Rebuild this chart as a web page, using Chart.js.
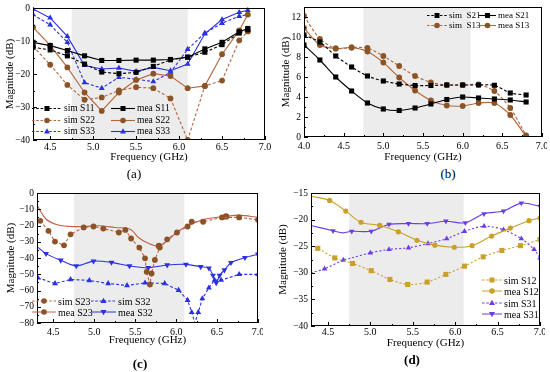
<!DOCTYPE html>
<html><head><meta charset="utf-8">
<script src="https://cdn.jsdelivr.net/npm/chart.js@4.4.0/dist/chart.umd.min.js"></script>
<style>
body{margin:0;background:#fff;width:550px;height:372px;position:relative;overflow:hidden;font-family:"Liberation Serif","Times New Roman",serif;color:#000;}
canvas{position:absolute;}
.cap{position:absolute;font-size:13px;transform:translate(-50%,-50%);white-space:nowrap;color:#000;}
.leg{position:absolute;display:flex;align-items:center;white-space:nowrap;transform:translateY(-50%);}
.leg svg{display:block;margin-right:2px;}
</style></head><body>
<script>
// ---------- data ----------
const SHADE = [4.75, 6.1];
// (a)
const freqA = [4.3,4.5,4.7,4.9,5.1,5.3,5.5,5.7,5.9,6.1,6.3,6.5,6.7,6.8];
const simS11 = [-11.9,-12.7,-14.5,-17.0,-19.4,-19.9,-19.5,-17.7,-15.7,-14.9,-13.4,-11.1,-7.6,-6.6];
const meaS11 = [-10.4,-11.4,-12.9,-14.5,-15.9,-15.9,-15.8,-15.8,-15.6,-14.9,-12.4,-10.4,-7.2,-6.2];
const simS22 = [-11.6,-17.2,-23.3,-27.8,-27.1,-25.0,-24.0,-24.3,-27.4,-40.0,-23.6,-22.0,-9.8,-7.1];
const meaS22 = [-5.8,-11.3,-18.0,-25.6,-31.2,-25.6,-21.8,-19.9,-20.6,-24.3,-23.6,-14.0,-6.8,-2.0];
const simS33 = [-2.0,-5.1,-10.4,-22.6,-24.3,-21.0,-21.6,-22.3,-19.5,-12.5,-7.6,-4.6,-2.5,-2.0];
const meaS33 = [-0.3,-3.0,-8.6,-17.4,-18.5,-18.2,-19.2,-18.0,-19.0,-17.0,-7.8,-3.5,-1.3,-0.7];
// (b)
const freqB = [4.0,4.2,4.4,4.6,4.8,5.0,5.2,5.4,5.6,5.8,6.0,6.2,6.4,6.6,6.8];
const simS21 = [10.2,9.5,8.1,7.0,6.1,5.6,5.3,5.15,5.15,5.2,5.2,5.2,5.17,4.4,4.2];
const meaS21 = [9.2,7.7,6.0,4.6,3.4,2.8,2.65,2.9,3.3,3.75,4.0,3.9,3.8,3.7,3.5];
const simS13 = [12.1,9.8,8.85,8.95,8.9,8.1,7.1,6.1,5.45,5.2,5.2,5.25,4.6,2.9,0.15];
const meaS13 = [10.9,9.2,8.85,8.95,8.55,7.45,5.95,4.65,3.65,3.15,3.1,3.4,3.4,2.2,0.05];
// (c)
const simS23X = [4.34,4.44,4.52,4.63,4.71,4.87,4.99,5.11,5.30,5.38,5.45,5.55,5.62,5.64,5.68,5.70,5.74,5.80,5.89,6.01,6.14,6.19,6.33,6.56,6.77,7.0];
const simS23Y = [-17.1,-23.3,-29.9,-32.2,-25.4,-21.2,-20.6,-21.9,-24.3,-22.7,-28.0,-33.6,-40.2,-48.5,-56.3,-49.5,-41.2,-33.6,-28.5,-24.3,-20.6,-17.7,-17.7,-15.0,-15.0,-16.5];
const meaS23X = [4.3,4.41,4.55,4.70,4.88,5.05,5.25,5.44,5.54,5.64,5.79,5.91,6.03,6.18,6.36,6.61,6.77,7.0];
const meaS23Y = [-7.4,-16.0,-19.6,-20.6,-20.6,-20.2,-21.2,-22.3,-27.4,-30.5,-32.6,-28.5,-23.3,-19.2,-16.0,-14.4,-13.6,-15.0];
const simS32X = [4.31,4.52,4.71,4.94,5.17,5.40,5.62,5.86,6.03,6.14,6.19,6.23,6.27,6.32,6.40,6.47,6.55,6.77,7.0];
const simS32Y = [-52.2,-55.7,-53.2,-53.8,-55.7,-56.9,-55.3,-55.7,-59.8,-66.0,-73.4,-80.0,-73.4,-65.0,-58.4,-53.6,-53.6,-50.1,-50.1];
const meaS32X = [4.3,4.41,4.59,4.78,4.99,5.21,5.43,5.66,5.89,6.12,6.30,6.40,6.45,6.49,6.53,6.59,6.67,6.84,7.0];
const meaS32Y = [-33.0,-37.3,-41.4,-44.9,-41.9,-42.7,-44.9,-46.0,-44.3,-43.9,-45.4,-46.2,-50.7,-55.3,-50.7,-47.4,-42.9,-39.8,-37.7];
// (d)
const simS12X = [4.3,4.38,4.58,4.79,5.01,5.23,5.44,5.67,5.89,6.11,6.33,6.55,6.77,7.0];
const simS12Y = [-25.0,-25.4,-27.2,-28.25,-29.6,-31.25,-32.2,-31.75,-30.3,-28.75,-27.0,-25.8,-24.9,-23.75];
const meaS12X = [4.3,4.52,4.71,4.89,5.11,5.33,5.55,5.76,5.99,6.20,6.43,6.65,6.87,7.0];
const meaS12Y = [-15.6,-16.4,-18.4,-20.5,-21.1,-22.3,-23.9,-24.8,-25.2,-24.9,-23.1,-21.6,-20.2,-19.7];
const simS31X = [4.3,4.46,4.68,4.78,5.0,5.22,5.45,5.68,5.90,6.11,6.34,6.57,6.78,6.93,7.0];
const simS31Y = [-30.0,-29.25,-27.6,-27.2,-26.25,-25.6,-25.3,-24.5,-23.6,-22.2,-21.25,-21.9,-23.6,-25.6,-27.2];
const meaS31X = [4.3,4.56,4.68,4.78,5.01,5.22,5.45,5.67,5.89,6.12,6.34,6.57,6.78,7.0];
const meaS31Y = [-21.1,-22.1,-22.5,-22.2,-22.2,-20.9,-20.75,-20.75,-20.3,-20.6,-18.9,-18.4,-16.9,-17.5];
// ticks
const xTicks = [4.5,5.0,5.5,6.0,6.5,7.0];
const xTickLabels = ['4.5','5.0','5.5','6.0','6.5','7.0'];
const xTicksB = [4.0,4.5,5.0,5.5,6.0,6.5,7.0];
const xTickLabelsB = ['4.0','4.5','5.0','5.5','6.0','6.5','7.0'];
const yTicksA = [-40,-30,-20,-10,0];
const yTickLabelsA = ['\u221240','\u221230','\u221220','\u221210','0'];
const yTicksB = [0,2,4,6,8,10,12];
const yTickLabelsB = ['0','2','4','6','8','10','12'];
const yTicksC = [-80,-70,-60,-50,-40,-30,-20,-10,0];
const yTickLabelsC = ['\u221280','\u221270','\u221260','\u221250','\u221240','\u221230','\u221220','\u221210','0'];
const yTicksD = [-40,-35,-30,-25,-20,-15];
const yTickLabelsD = ['\u221240','\u221235','\u221230','\u221225','\u221220','\u221215'];

// ---------- styles ----------
const FONT = "'Liberation Serif','Times New Roman',serif";
const BLACK='#000000', BROWN='#8c5426', BROWNL='#b0683e', RED='#c0604a', BLUE='#2b30e0', GOLD='#c8a02a', PURPLE='#6c3ee2';

function pts(xs, ys){ return xs.map((x,i)=>({x:x, y:ys[i]})); }
function ds(xs, ys, line, mark, dashed, shape, rot, extra){
  return Object.assign({
    data: pts(xs, ys), showLine:true, borderColor:line, backgroundColor:mark,
    pointBorderColor:mark, borderWidth:1.1, borderDash: dashed ? [3,2] : [],
    pointStyle: shape, pointRotation: rot||0, pointRadius: shape==='rect'?3.6:(shape==='triangle'?3.4:2.9),
    pointBorderWidth:0, tension:0, clip:false
  }, extra||{});
}

function makeFrame(shade){
  return {
    id:'frame',
    beforeDatasetsDraw(c){
      const {ctx, chartArea:ca, scales:{x}} = c;
      ctx.save();
      ctx.fillStyle = '#ececec';
      const a = x.getPixelForValue(shade[0]), b = x.getPixelForValue(shade[1]);
      ctx.fillRect(a, ca.top, b-a, ca.bottom-ca.top);
      ctx.restore();
      ctx.save();
      ctx.beginPath(); ctx.rect(ca.left, ca.top-1, ca.right-ca.left, ca.bottom-ca.top+1); ctx.clip();
    },
    afterDatasetsDraw(c){
      c.ctx.restore();
      const {ctx, chartArea:ca, scales:{x,y}} = c;
      ctx.save();
      ctx.strokeStyle = '#000'; ctx.lineWidth = 1;
      ctx.strokeRect(Math.round(ca.left)+0.5, Math.round(ca.top)+0.5, Math.round(ca.right-ca.left)-1, Math.round(ca.bottom-ca.top)-1);
      ctx.beginPath();
      const xt = x.ticks.map(t=>t.value), yt = y.ticks.map(t=>t.value);
      const xs = xt[1]-xt[0], ys = yt[1]-yt[0];
      const xv = [], yv = [];
      for (let v = xt[0]-xs/2; v <= x.max+1e-9; v += xs/2) if (v >= x.min-1e-9) xv.push(v);
      for (let v = yt[0]; v <= y.max+1e-9; v += ys/2) if (v >= y.min-1e-9) yv.push(v);
      xv.forEach(v=>{
        const major = xt.some(t=>Math.abs(t-v)<1e-6);
        const px = Math.round(x.getPixelForValue(v))+0.5;
        ctx.moveTo(px, ca.bottom); ctx.lineTo(px, ca.bottom-(major?4:2));
      });
      yv.forEach(v=>{
        const major = yt.some(t=>Math.abs(t-v)<1e-6);
        const py = Math.round(y.getPixelForValue(v))+0.5;
        ctx.moveTo(ca.left, py); ctx.lineTo(ca.left+(major?4:2), py);
      });
      ctx.stroke();
      ctx.restore();
    }
  };
}

function panel(p){
  const cv = document.createElement('canvas');
  cv.style.left = p.x0+'px'; cv.style.top = p.y0+'px';
  cv.style.width = p.w+'px'; cv.style.height = p.h+'px';
  cv.width = p.w; cv.height = p.h;
  document.body.appendChild(cv);
  new Chart(cv, {
    type:'scatter',
    data:{datasets:p.datasets},
    options:{
      responsive:false, animation:false, devicePixelRatio:1, events:[],
      layout:{padding:{top:p.area.top-p.y0, right:p.x0+p.w-p.area.right, left:0, bottom:0}},
      plugins:{legend:{display:false}, tooltip:{enabled:false}},
      scales:{
        x:{type:'linear', min:p.xmin, max:p.xmax,
          afterBuildTicks:s=>{ s.ticks = p.xticks.map(v=>({value:v})); },
          afterFit:s=>{ s.height = p.y0+p.h-p.area.bottom; s.paddingLeft=0; s.paddingRight=0; },
          grid:{display:false, drawTicks:false}, border:{display:false},
          ticks:{font:{family:FONT,size:10}, color:'#000', padding:p.xpad, autoSkip:false, maxRotation:0,
            callback:(v,i)=>p.xlabels[i]},
          title:{display:true, text:'Frequency (GHz)', font:{family:FONT,size:11}, color:'#000', padding:{top:0,bottom:1.4}}},
        y:{type:'linear', min:p.ymin, max:p.ymax,
          afterBuildTicks:s=>{ s.ticks = p.yticks.map(v=>({value:v})); },
          afterFit:s=>{ s.width = p.area.left-p.x0; s.paddingTop=0; s.paddingBottom=0; },
          grid:{display:false, drawTicks:false}, border:{display:false},
          ticks:{font:{family:FONT,size:9.5}, color:'#000', padding:3, autoSkip:false,
            callback:(v,i)=>p.ylabels[i]},
          title:{display:true, text:'Magnitude (dB)', font:{family:FONT,size:11}, color:'#000', padding:{top:p.ytpad,bottom:0}}}
      }
    },
    plugins:[makeFrame(SHADE)]
  });
}

function markerSVG(shape, color, cx, cy){
  if (shape==='rect') return `<rect x="${cx-2.5}" y="${cy-2.5}" width="5" height="5" fill="${color}"/>`;
  if (shape==='circle') return `<circle cx="${cx}" cy="${cy}" r="2.8" fill="${color}"/>`;
  if (shape==='tri') return `<polygon points="${cx},${cy-3.2} ${cx+3},${cy+2} ${cx-3},${cy+2}" fill="${color}"/>`;
  if (shape==='trid') return `<polygon points="${cx},${cy+3.2} ${cx+3},${cy-2} ${cx-3},${cy-2}" fill="${color}"/>`;
  return '';
}
function leg(x, y, w, line, mark, dashed, shape, text, fs){
  const d = document.createElement('div');
  d.className = 'leg';
  d.style.left = x+'px'; d.style.top = y+'px'; d.style.fontSize = fs+'px';
  d.innerHTML = `<svg width="${w}" height="9"><line x1="0" y1="4.5" x2="${w}" y2="4.5" stroke="${line}" stroke-width="1.1" ${dashed?'stroke-dasharray="2.5,1.8"':''}/>${markerSVG(shape,mark,w/2,4.5)}</svg><span></span>`;
  d.querySelector('span').textContent = text;
  document.body.appendChild(d);
}
function cap(x, y, text, bold){
  const d = document.createElement('div');
  d.className = 'cap'; d.style.left = x+'px'; d.style.top = y+'px';
  if (bold) d.style.fontWeight = 'bold';
  d.textContent = text; document.body.appendChild(d);
}

// (a)
panel({x0:0, y0:0, w:272, h:165, area:{left:33, top:8, right:265, bottom:140},
  xmin:4.3, xmax:7.0, ymin:-40, ymax:0, xticks:xTicks, xlabels:xTickLabels, yticks:yTicksA, ylabels:yTickLabelsA,
  xpad:1, ytpad:3.5,
  datasets:[
    ds(freqA, simS11, BLACK, BLACK, true, 'rect'),
    ds(freqA, meaS11, BLACK, BLACK, false, 'rect'),
    ds(freqA, simS22, BROWNL, BROWN, true, 'circle'),
    ds(freqA, meaS22, BROWNL, BROWN, false, 'circle'),
    ds(freqA, simS33, BLUE, BLUE, true, 'triangle'),
    ds(freqA, meaS33, BLUE, BLUE, false, 'triangle')
  ]});
leg(32, 108, 30, BLACK, BLACK, true, 'rect', 'sim S11', 9.5);
leg(32, 120, 30, BROWNL, BROWN, true, 'circle', 'sim S22', 9.5);
leg(32, 131, 30, BLUE, BLUE, true, 'tri', 'sim S33', 9.5);
leg(111, 108, 24, BLACK, BLACK, false, 'rect', 'mea S11', 9.5);
leg(111, 120, 24, BROWNL, BROWN, false, 'circle', 'mea S22', 9.5);
leg(111, 131, 24, BLUE, BLUE, false, 'tri', 'mea S33', 9.5);
cap(134, 174, '(a)');

// (b)
panel({x0:275, y0:0, w:272, h:165, area:{left:304, top:7, right:542, bottom:137},
  xmin:4.0, xmax:7.0, ymin:0, ymax:13, xticks:xTicksB, xlabels:xTickLabelsB, yticks:yTicksB, ylabels:yTickLabelsB,
  xpad:3, ytpad:5,
  datasets:[
    ds(freqB, simS21, BLACK, BLACK, true, 'rect', 0, {tension:0.25}),
    ds(freqB, meaS21, BLACK, BLACK, false, 'rect', 0, {tension:0.25}),
    ds(freqB, simS13, BROWNL, BROWN, true, 'circle', 0, {tension:0.25}),
    ds(freqB, meaS13, BROWNL, BROWN, false, 'circle', 0, {tension:0.25})
  ]});
leg(427, 15, 20, BLACK, BLACK, true, 'rect', 'sim\u00a0 S21', 9);
leg(427, 25, 20, BROWNL, BROWN, true, 'circle', 'sim\u00a0 S13', 9);
leg(479, 15, 17, BLACK, BLACK, false, 'rect', 'mea S21', 9);
leg(479, 25, 17, BROWNL, BROWN, false, 'circle', 'mea S13', 9);
cap(448, 174, '(b)');

// (c)
panel({x0:0, y0:186, w:263, h:162, area:{left:37, top:193, right:258, bottom:323},
  xmin:4.3, xmax:7.0, ymin:-80, ymax:0, xticks:xTicks, xlabels:xTickLabels, yticks:yTicksC, ylabels:yTickLabelsC,
  xpad:3, ytpad:5,
  datasets:[
    ds(simS23X, simS23Y, RED, BROWN, true, 'circle'),
    ds(meaS23X, meaS23Y, RED, BROWN, false, 'circle', 0, {tension:0.35, pointRadius:meaS23X.map((v,i)=>(i===10||i===15)?3.2:0)}),
    ds(simS32X, simS32Y, BLUE, BLUE, true, 'triangle', 0, {pointRadius:simS32X.map((v,i)=>i===11?0:3.4)}),
    ds(meaS32X, meaS32Y, BLUE, BLUE, false, 'triangle', 180, {tension:0.3, pointRadius:meaS32X.map((v,i)=>i===0?0:3.4)})
  ]});
leg(32, 301, 24, RED, BROWN, true, 'circle', 'sim S23', 10);
leg(32, 312, 24, RED, BROWN, false, 'circle', 'mea S23', 10);
leg(91, 301, 25, BLUE, BLUE, true, 'tri', 'sim S32', 10);
leg(91, 312, 25, BLUE, BLUE, false, 'trid', 'mea S32', 10);
cap(140, 364, '(c)', true);

// (d)
panel({x0:275, y0:186, w:270, h:165, area:{left:311, top:193, right:540, bottom:326},
  xmin:4.3, xmax:7.0, ymin:-40, ymax:-15, xticks:xTicks, xlabels:xTickLabels, yticks:yTicksD, ylabels:yTickLabelsD,
  xpad:0, ytpad:1.4,
  datasets:[
    ds(simS12X, simS12Y, GOLD, GOLD, true, 'rect', 0, {tension:0.3, borderDash:[2,2], pointRadius:simS12X.map((v,i)=>i===0?0:3.6)}),
    ds(meaS12X, meaS12Y, GOLD, GOLD, false, 'circle', 0, {tension:0.35, pointRadius:meaS12X.map((v,i)=>i===0?0:2.6)}),
    ds(simS31X, simS31Y, PURPLE, PURPLE, true, 'triangle', 0, {tension:0.3, borderDash:[2,2], pointRadius:simS31X.map((v,i)=>(i===0||i===3)?0:3.2)}),
    ds(meaS31X, meaS31Y, PURPLE, PURPLE, false, 'triangle', 180, {tension:0.3, pointRadius:meaS31X.map((v,i)=>(i===0||i===2)?0:3.2)})
  ]});
leg(482, 280, 20, GOLD, GOLD, true, 'rect', 'sim S12', 10);
leg(482, 291, 20, GOLD, GOLD, false, 'circle', 'mea S12', 10);
leg(482, 303, 20, PURPLE, PURPLE, true, 'tri', 'sim S31', 10);
leg(482, 314, 20, PURPLE, PURPLE, false, 'trid', 'mea S31', 10);
cap(412, 360, '(d)', true);
</script>
</body></html>
